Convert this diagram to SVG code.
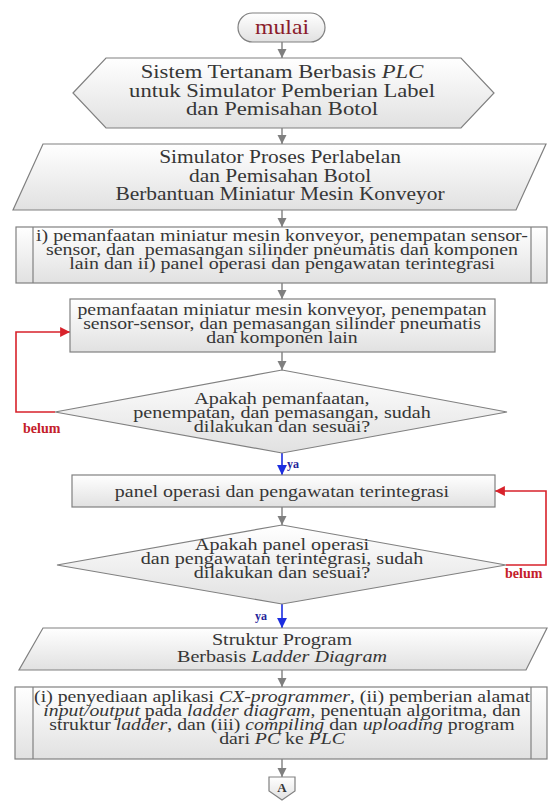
<svg xmlns="http://www.w3.org/2000/svg" width="548" height="801" viewBox="0 0 548 801">
<style>
.shape{fill:url(#g);stroke:#808080;stroke-width:1.2}
.t{font-family:"Liberation Serif","Times New Roman",serif;font-size:17.5px;fill:#363636;text-anchor:middle}
.big{font-family:"Liberation Serif","Times New Roman",serif;font-size:19.5px;fill:#363636;text-anchor:middle}
.i{font-style:italic}
.con{fill:none;stroke:#7f7f7f;stroke-width:1.4}
.red{fill:none;stroke:#d8222b;stroke-width:1.6}
.blue{fill:none;stroke:#1c2ee0;stroke-width:1.6}
.belum{font-family:"Liberation Serif","Times New Roman",serif;font-size:14px;font-weight:bold;fill:#c4202a}
.ya{font-family:"Liberation Serif","Times New Roman",serif;font-size:12px;font-weight:bold;fill:#23239a}
.sep{stroke:#808080;stroke-width:1.2}
</style>
<defs>
<linearGradient id="g" x1="0" y1="0" x2="0" y2="1">
<stop offset="0" stop-color="#ffffff"/>
<stop offset="1" stop-color="#e1e1e1"/>
</linearGradient>
<marker id="ag" markerUnits="userSpaceOnUse" markerWidth="10" markerHeight="10" viewBox="0 0 10 10" refX="9" refY="5" orient="auto"><path d="M0,0.5 L9,5 L0,9.5 z" fill="#7f7f7f"/></marker>
<marker id="ar" markerUnits="userSpaceOnUse" markerWidth="11" markerHeight="11" viewBox="0 0 10 10" refX="9" refY="5" orient="auto"><path d="M0,0.5 L9,5 L0,9.5 z" fill="#d8222b"/></marker>
<marker id="ab" markerUnits="userSpaceOnUse" markerWidth="11" markerHeight="11" viewBox="0 0 10 10" refX="9" refY="5" orient="auto"><path d="M0,0.5 L9,5 L0,9.5 z" fill="#1c2ee0"/></marker>
</defs>

<g id="connectors">
<line class="con" x1="282" y1="42" x2="282" y2="58" marker-end="url(#ag)"/>
<line class="con" x1="282" y1="128" x2="282" y2="144" marker-end="url(#ag)"/>
<line class="con" x1="282" y1="210" x2="282" y2="227" marker-end="url(#ag)"/>
<line class="con" x1="282" y1="283" x2="282" y2="299" marker-end="url(#ag)"/>
<line class="con" x1="282" y1="352" x2="282" y2="370" marker-end="url(#ag)"/>
<line class="blue" x1="282" y1="453" x2="282" y2="475" marker-end="url(#ab)"/>
<line class="con" x1="282" y1="507" x2="282" y2="525" marker-end="url(#ag)"/>
<line class="blue" x1="282" y1="604" x2="282" y2="628" marker-end="url(#ab)"/>
<line class="con" x1="282" y1="670" x2="282" y2="687" marker-end="url(#ag)"/>
<line class="con" x1="282" y1="759" x2="282" y2="777" marker-end="url(#ag)"/>
<polyline class="red" points="55,412 16,412 16,332 70,332" marker-end="url(#ar)"/>
<polyline class="red" points="506,565 546,565 546,491 495,491" marker-end="url(#ar)"/>
<text class="belum" x="23" y="433">belum</text>
<text class="belum" x="505" y="578">belum</text>
<text class="ya" x="287" y="468">ya</text>
<text class="ya" x="255" y="620">ya</text>
</g>

<g id="mulai">
<rect class="shape" x="238" y="13" width="87" height="29" rx="14.5"/>
<text class="big" transform="translate(282 34) scale(1.08 1)" style="font-size:22px;fill:#8b1c2c">mulai</text>
</g>

<g id="sistem">
<polygon class="shape" points="73,93 106,58 461,58 494,93 461,128 106,128"/>
<text class="big" transform="translate(282 78) scale(1.16 1)">Sistem Tertanam Berbasis <tspan class="i">PLC</tspan></text>
<text class="big" transform="translate(282 96.5) scale(1.16 1)">untuk Simulator Pemberian Label</text>
<text class="big" transform="translate(282 115) scale(1.16 1)">dan Pemisahan Botol</text>
</g>

<g id="simulator">
<polygon class="shape" points="43,144 546,144 516,210 13,210"/>
<text class="big" transform="translate(280 163) scale(1.1 1)">Simulator Proses Perlabelan</text>
<text class="big" transform="translate(280 181.5) scale(1.1 1)">dan Pemisahan Botol</text>
<text class="big" transform="translate(280 200) scale(1.1 1)">Berbantuan Miniatur Mesin Konveyor</text>
</g>

<g id="tahap">
<rect class="shape" x="16" y="227" width="531" height="56"/>
<line class="sep" x1="33" y1="227" x2="33" y2="283"/>
<line class="sep" x1="531" y1="227" x2="531" y2="283"/>
<text class="t" transform="translate(282 241) scale(1.14 1)">i) pemanfaatan miniatur mesin konveyor, penempatan sensor-</text>
<text class="t" transform="translate(282 255) scale(1.14 1)">sensor, dan&#160; pemasangan silinder pneumatis dan komponen</text>
<text class="t" transform="translate(282 269) scale(1.14 1)">lain dan ii) panel operasi dan pengawatan terintegrasi</text>
</g>

<g id="pemanfaatan">
<rect class="shape" x="70" y="299" width="425" height="53"/>
<text class="t" transform="translate(282 315) scale(1.13 1)">pemanfaatan miniatur mesin konveyor, penempatan</text>
<text class="t" transform="translate(282 329) scale(1.13 1)">sensor-sensor, dan pemasangan silinder pneumatis</text>
<text class="t" transform="translate(282 343) scale(1.13 1)">dan komponen lain</text>
</g>

<g id="cek1">
<polygon class="shape" points="282,370 507,412 282,453 55,412"/>
<text class="t" transform="translate(282 404) scale(1.15 1)">Apakah pemanfaatan,</text>
<text class="t" transform="translate(282 418) scale(1.15 1)">penempatan, dan pemasangan, sudah</text>
<text class="t" transform="translate(282 432) scale(1.15 1)">dilakukan dan sesuai?</text>
</g>

<g id="panel">
<rect class="shape" x="72" y="475" width="423" height="32"/>
<text class="t" transform="translate(282 497) scale(1.14 1)">panel operasi dan pengawatan terintegrasi</text>
</g>

<g id="cek2">
<polygon class="shape" points="282,525 506,565 282,604 57,565"/>
<text class="t" transform="translate(282 550) scale(1.15 1)">Apakah panel operasi</text>
<text class="t" transform="translate(282 564) scale(1.15 1)">dan pengawatan terintegrasi, sudah</text>
<text class="t" transform="translate(282 578) scale(1.15 1)">dilakukan dan sesuai?</text>
</g>

<g id="struktur">
<polygon class="shape" points="43,628 547,628 526,670 19,670"/>
<text class="t" transform="translate(282 645) scale(1.15 1)">Struktur Program</text>
<text class="t" transform="translate(282 662) scale(1.15 1)">Berbasis <tspan class="i">Ladder Diagram</tspan></text>
</g>

<g id="program">
<rect class="shape" x="15" y="687" width="532" height="72"/>
<line class="sep" x1="33" y1="687" x2="33" y2="759"/>
<line class="sep" x1="531" y1="687" x2="531" y2="759"/>
<text class="t" transform="translate(282 702) scale(1.13 1)">(i) penyediaan aplikasi <tspan class="i">CX-programmer</tspan>, (ii) pemberian alamat</text>
<text class="t" transform="translate(282 716) scale(1.13 1)"><tspan class="i">input/output</tspan> pada <tspan class="i">ladder diagram</tspan>, penentuan algoritma, dan</text>
<text class="t" transform="translate(282 730) scale(1.13 1)">struktur <tspan class="i">ladder</tspan>, dan (iii) <tspan class="i">compiling</tspan> dan <tspan class="i">uploading</tspan> program</text>
<text class="t" transform="translate(282 744) scale(1.13 1)">dari <tspan class="i">PC</tspan> ke <tspan class="i">PLC</tspan></text>
</g>

<g id="A">
<polygon class="shape" points="269,777 295,777 295,791 282,800 269,791"/>
<text class="t" x="282" y="792" style="font-size:13px;font-weight:bold">A</text>
</g>
</svg>
